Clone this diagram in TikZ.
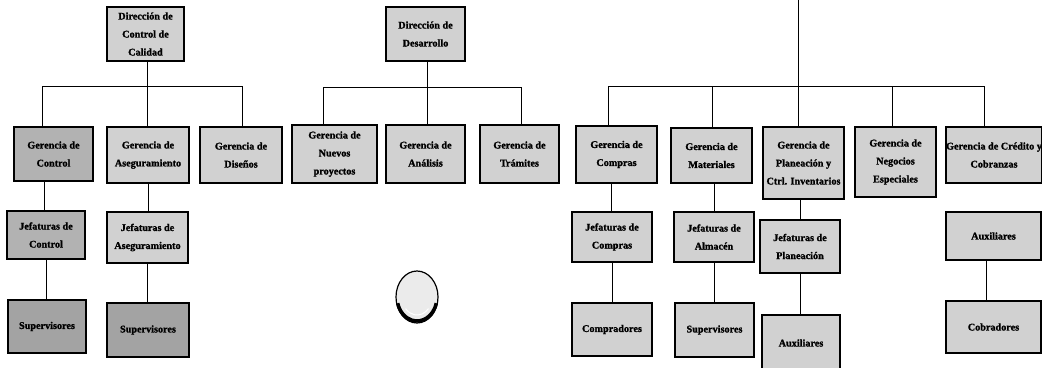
\documentclass[tikz,border=0pt]{standalone}
\usepackage{fontspec}
\setmainfont{Liberation Serif}
\newfontfamily\chartfont[FakeBold=1.3]{Liberation Serif Bold}
\begin{document}
\begin{tikzpicture}[x=1pt,y=-1pt,
  unit/.style={draw=black, line width=1.5pt, fill=black!18, align=center,
    inner sep=0pt, font=\chartfont\fontsize{10.2}{18}\selectfont},
  dark/.style={unit, fill=black!30},
  link/.style={draw=black, line width=1pt}]
\useasboundingbox (0,0) rectangle (1042,367);
\clip (0,0) rectangle (1042,367);

% --- Dirección de Control de Calidad ---
\node[unit, minimum width=77, minimum height=54] (dcc) at (145.5,34) {Dirección de\\Control de\\Calidad};
\node[dark, minimum width=79, minimum height=54] (gctl) at (53.5,154) {Gerencia de\\Control};
\node[unit, minimum width=82, minimum height=56] (gase) at (148,155) {Gerencia de\\Aseguramiento};
\node[unit, minimum width=82, minimum height=56] (gdis) at (241,155) {Gerencia de\\Diseños};
\node[dark, minimum width=78, minimum height=48] (jctl) at (46,235) {Jefaturas de\\Control};
\node[unit, minimum width=81, minimum height=51] (jase) at (147.5,237.5) {Jefaturas de\\Aseguramiento};
\node[unit, fill=black!36, minimum width=78, minimum height=53] (sup1) at (47,326.5) {Supervisores};
\node[unit, fill=black!36, minimum width=82, minimum height=54] (sup2) at (148,330) {Supervisores};

% --- Dirección de Desarrollo ---
\node[unit, minimum width=79, minimum height=54] (dd) at (425.5,34) {Dirección de\\Desarrollo};
\node[unit, minimum width=85, minimum height=58] (gnp) at (334.5,154) {Gerencia de\\Nuevos\\proyectos};
\node[unit, minimum width=79, minimum height=58] (gan) at (425.5,154) {Gerencia de\\Análisis};
\node[unit, minimum width=79, minimum height=58] (gtr) at (519.5,154) {Gerencia de\\Trámites};

% --- Upper management branch ---
\coordinate (rtop) at (798,0);
\node[unit, minimum width=81, minimum height=57] (gcom) at (616.5,154.5) {Gerencia de\\Compras};
\node[unit, minimum width=81, minimum height=55] (gmat) at (711.5,155.5) {Gerencia de\\Materiales};
\node[unit, minimum width=81, minimum height=72] (gpla) at (803.5,163) {Gerencia de\\Planeación y\\Ctrl. Inventarios};
\node[unit, minimum width=81, minimum height=70] (gneg) at (895.5,162) {Gerencia de\\Negocios\\Especiales};
\node[unit, minimum width=94, minimum height=56] (gcre) at (994,155) {Gerencia de Crédito y\\Cobranzas};

\node[unit, minimum width=80, minimum height=50] (jcom) at (612,237) {Jefaturas de\\Compras};
\node[unit, minimum width=80, minimum height=50] (jalm) at (714,237) {Jefaturas de\\Almacén};
\node[unit, minimum width=80, minimum height=53] (jpla) at (800,246.5) {Jefaturas de\\Planeación};
\node[unit, minimum width=95, minimum height=48] (aux1) at (993.5,236) {Auxiliares};

\node[unit, minimum width=80, minimum height=53] (compr) at (612,329.5) {Compradores};
\node[unit, minimum width=79, minimum height=54] (sup3) at (714.5,330) {Supervisores};
\node[unit, minimum width=78, minimum height=56] (aux2) at (801,343) {Auxiliares};
\node[unit, minimum width=95, minimum height=52] (cob) at (993.5,327) {Cobradores};

% --- bus bars ---
\coordinate (a1) at (42,86);  \coordinate (a2) at (147,86);  \coordinate (a3) at (242,86);
\coordinate (m1) at (323,87); \coordinate (m2) at (427,87);  \coordinate (m3) at (521,87);
\coordinate (r1) at (608,86); \coordinate (r2) at (712,86);  \coordinate (r3) at (798,86);
\coordinate (r4) at (892,86); \coordinate (r5) at (984,86);

\draw[link] (dcc.south -| a2) -- (a2);
\draw[link] (a1) -- (a3);
\draw[link] (a1) -- (a1 |- gctl.north);
\draw[link] (a2) -- (a2 |- gase.north);
\draw[link] (a3) -- (a3 |- gdis.north);

\draw[link] (dd.south -| m2) -- (m2);
\draw[link] (m1) -- (m3);
\draw[link] (m1) -- (m1 |- gnp.north);
\draw[link] (m2) -- (m2 |- gan.north);
\draw[link] (m3) -- (m3 |- gtr.north);

\draw[link] (rtop) -- (r3);
\draw[link] (r1) -- (r5);
\draw[link] (r1) -- (r1 |- gcom.north);
\draw[link] (r2) -- (r2 |- gmat.north);
\draw[link] (r3) -- (r3 |- gpla.north);
\draw[link] (r4) -- (r4 |- gneg.north);
\draw[link] (r5) -- (r5 |- gcre.north);

% --- vertical chains ---
\draw[link] ([xshift=-9.5pt]gctl.south) -- ([xshift=-2pt]jctl.north);
\draw[link] (jctl.south) -- (jctl.south |- sup1.north);
\draw[link] (gase.south) -- (gase.south |- jase.north);
\draw[link] (jase.south) -- (jase.south |- sup2.north);
\draw[link] ([xshift=-5.5pt]gcom.south) -- ([xshift=-5.5pt]gcom.south |- jcom.north);
\draw[link] (jcom.south) -- (jcom.south |- compr.north);
\draw[link] ([xshift=2.5pt]gmat.south) -- ([xshift=2.5pt]gmat.south |- jalm.north);
\draw[link] (jalm.south) -- (jalm.south |- sup3.north);
\draw[link] ([xshift=-3.5pt]gpla.south) -- ([xshift=-3.5pt]gpla.south |- jpla.north);
\draw[link] (jpla.south) -- (jpla.south |- aux2.north);
\draw[link] ([xshift=-7.5pt]aux1.south) -- ([xshift=-7.5pt]cob.north);

% --- round seal ---
\coordinate (seal) at (417,297);
\fill[black!8] (seal) ellipse [x radius=21, y radius=26];
\draw[line width=1.2pt] (seal) ellipse [x radius=21, y radius=26];
\draw[line width=3.5pt] (seal) ++(15:20 and 24) arc [start angle=15, end angle=165, x radius=20, y radius=24];
\draw[line width=1pt, white] (seal) ++(40:15 and 18) arc [start angle=40, end angle=140, x radius=15, y radius=18];
\end{tikzpicture}
\end{document}
